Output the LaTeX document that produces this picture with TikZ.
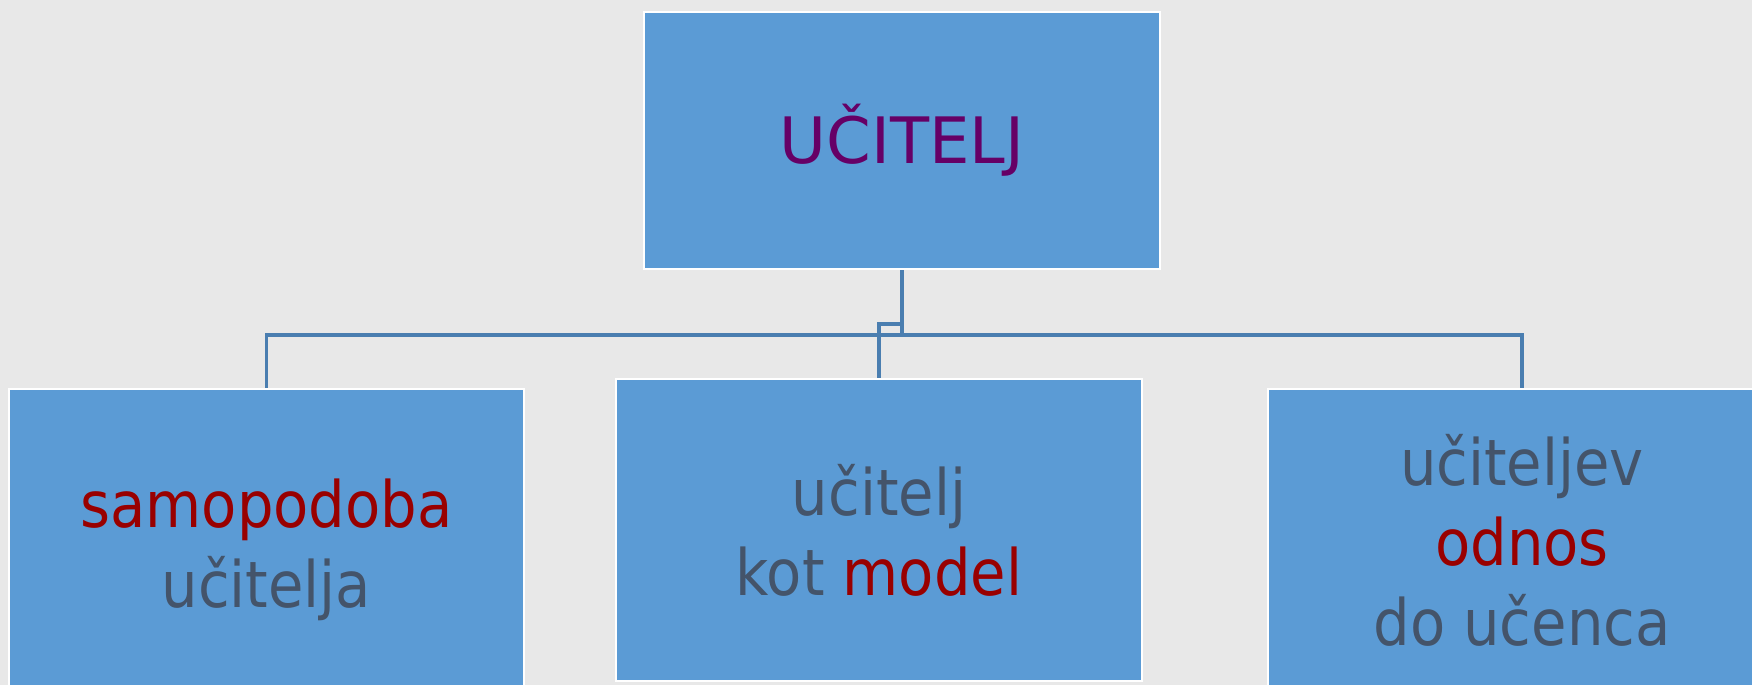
\documentclass[tikz,border=0pt]{standalone}
\usepackage{fontspec}
\setmainfont{DejaVu Sans Condensed}
\newfontfamily\widefont{DejaVu Sans}
\definecolor{bg}{HTML}{E8E8E8}
\definecolor{boxfill}{HTML}{5B9BD5}
\definecolor{link}{HTML}{4A7EB0}
\definecolor{topic}{HTML}{660066}
\definecolor{hl}{HTML}{990000}
\definecolor{plain}{HTML}{44546A}
\tikzset{
  card/.style={draw=white, line width=1.3pt, fill=boxfill, inner sep=0pt,
    align=center, text=plain, font=\fontsize{32}{40}\selectfont},
  link/.style={draw=link, line width=1.6pt}
}
\begin{document}
\begin{tikzpicture}[x=0.5pt,y=-0.5pt]
  \fill[bg] (0,0) rectangle (1752,685);
  \useasboundingbox (0,0) rectangle (1752,685);
  \begin{scope}
    \clip (0,0) rectangle (1752,685);
    \node[card, minimum width=258pt, minimum height=128.5pt, text=topic,
      font=\widefont\fontsize{32}{40}\selectfont] (top) at (902,140.5) {UČITELJ};
    \node[card, minimum width=257.5pt, minimum height=161pt] (left) at (266.5,550)
      {\textcolor{hl}{samopodoba}\\učitelja};
    \node[card, minimum width=263pt, minimum height=151pt] (mid) at (879,530)
      {učitelj\\kot \textcolor{hl}{model}};
    \node[card, minimum width=254pt, minimum height=151pt] (right) at (1522,540)
      {učiteljev\\\textcolor{hl}{odnos}\\do učenca};
  \end{scope}
  \coordinate (hub) at (902,335);
  \coordinate (step) at (902,324);
  \draw[link] (top.south) -- (hub);
  \draw[link] (left.north) |- (hub) -| (right.north);
  \draw[link] (step) -| (mid.north);
\end{tikzpicture}
\end{document}
